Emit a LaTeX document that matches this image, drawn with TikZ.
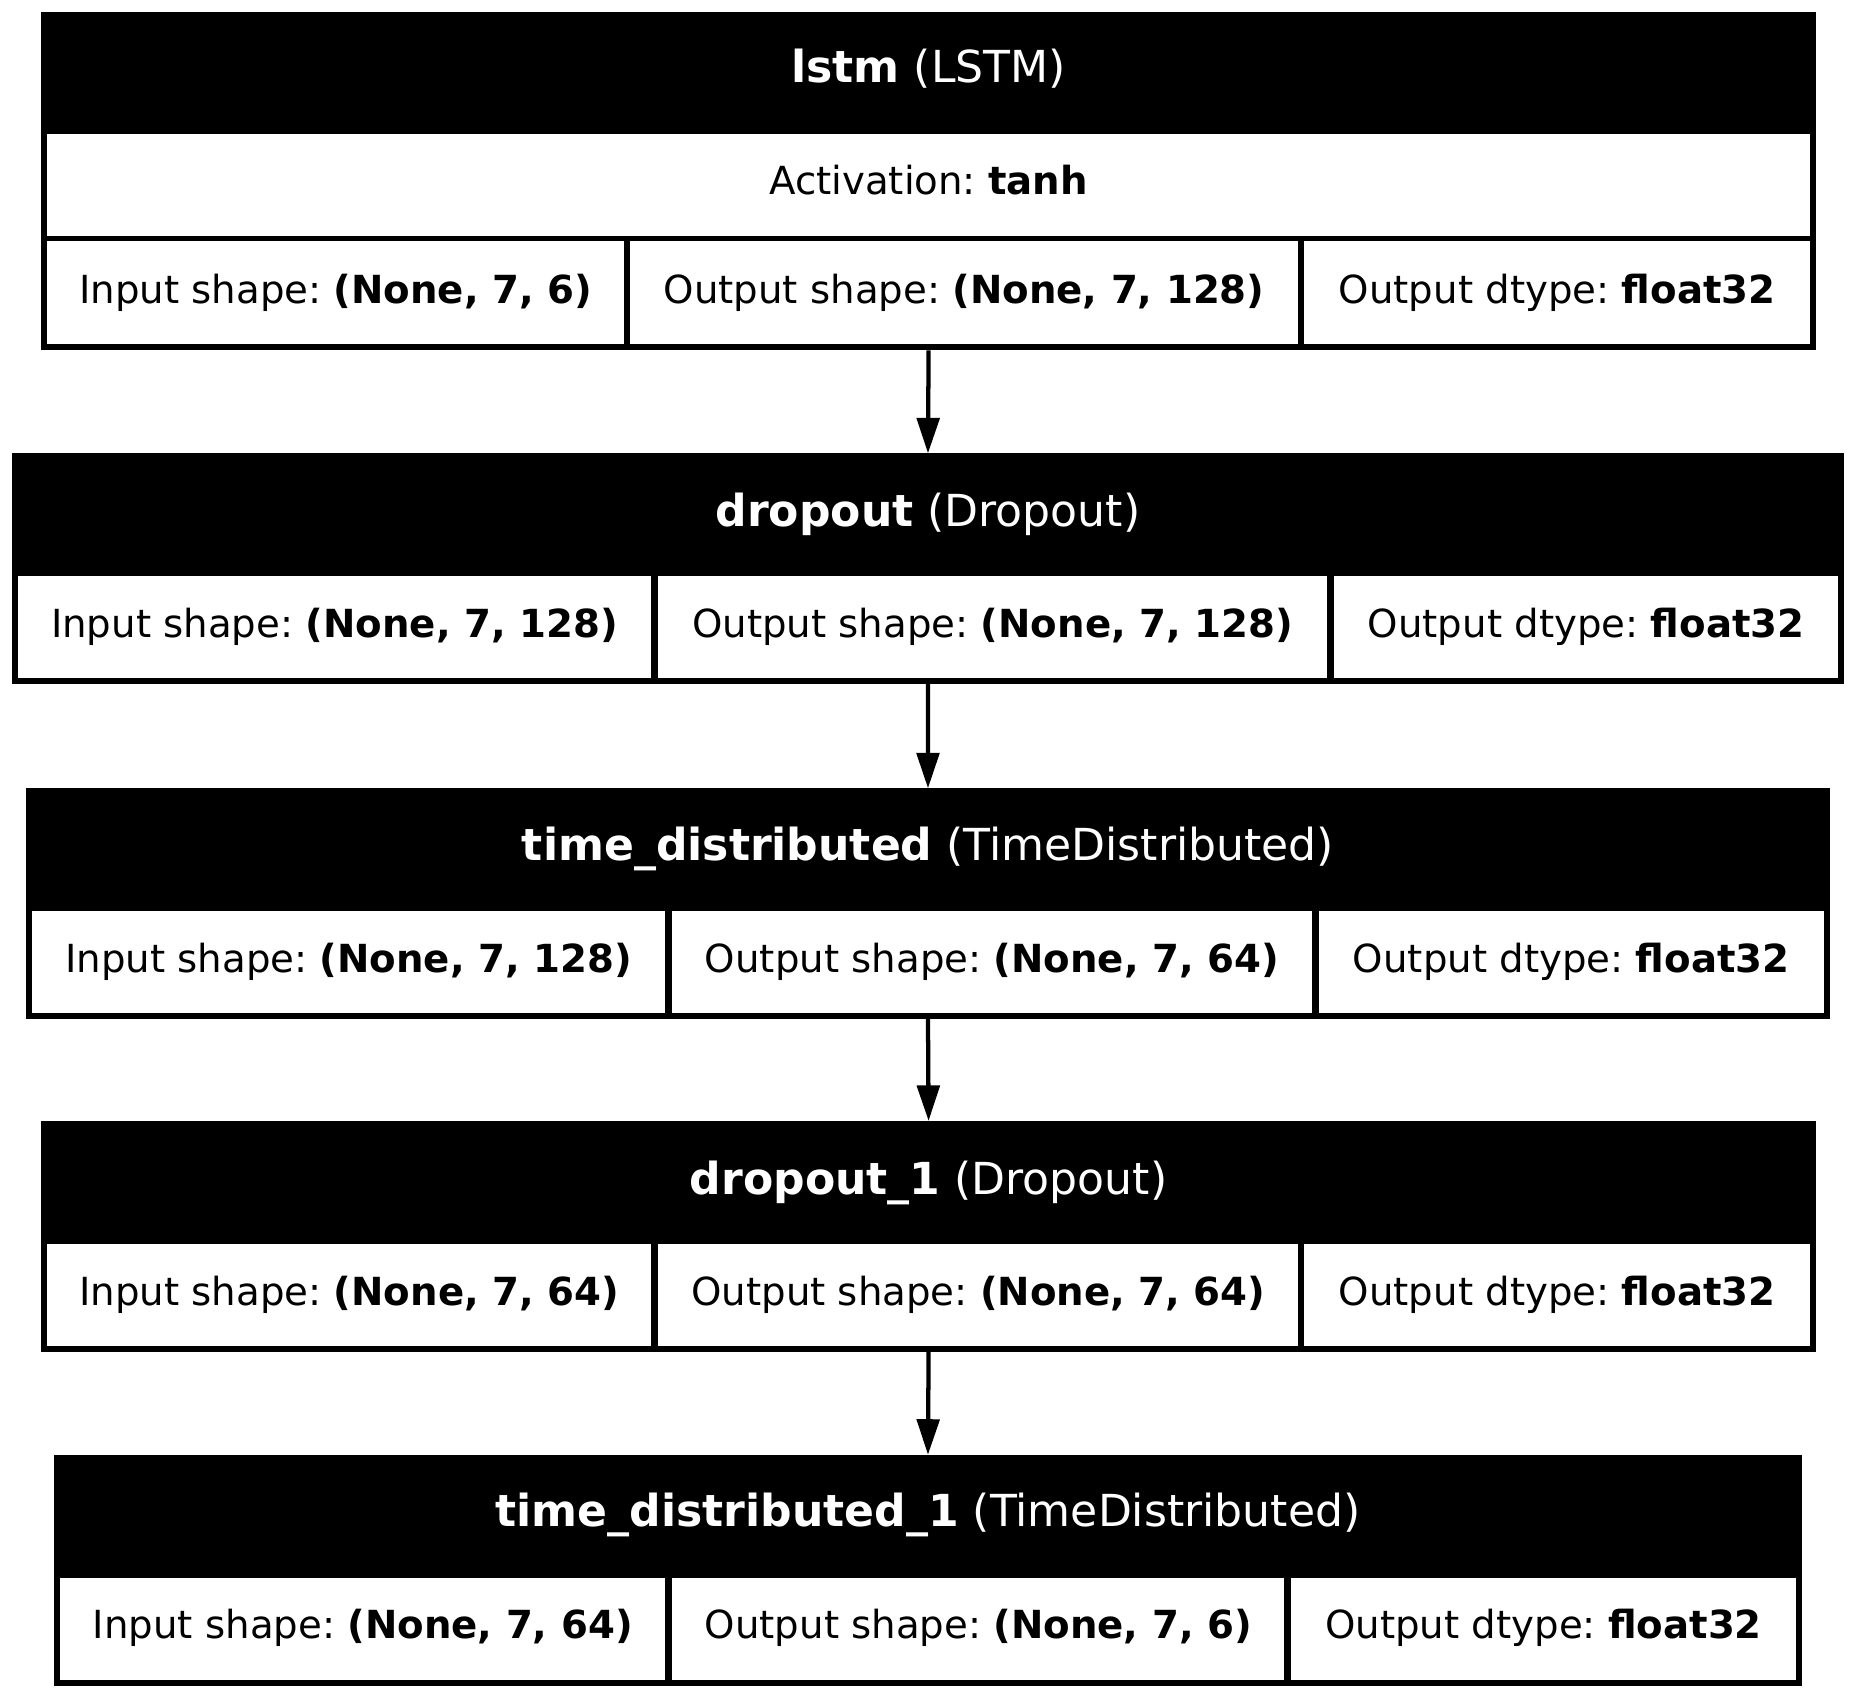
\documentclass[tikz,border=0pt]{standalone}
\usepackage{fontspec}
\setmainfont{DejaVu Sans}
\usetikzlibrary{arrows.meta}
\frenchspacing

\begin{document}
\begin{tikzpicture}[x=0.1mm, y=-0.1mm,
layerbox/.style={fill=black, inner sep=0pt, outer sep=0pt, anchor=north west},
layercell/.style={fill=white, inner sep=0pt, outer sep=0pt, anchor=north west,
  font=\fontsize{9.3pt}{11pt}\selectfont, text height=7.1pt, text depth=2.2pt},
layertitle/.style={text=white, anchor=base, inner sep=0pt,
  font=\fontsize{10.6pt}{12pt}\selectfont},
flow/.style={-{Triangle[length=3mm, width=1.9mm]}, line width=0.36mm}]
\useasboundingbox (0,0) rectangle (1568,1434);

% lstm
\node[layerbox, minimum width=149.9mm, minimum height=28.6mm] (lstm) at (35,10) {};
\node[layertitle] (lstm-t) at (784.5,70) {\textbf{lstm} (LSTM)};
\node[layercell, minimum width=148.9mm, minimum height=8.6mm] (lstm-a) at (40,113) {Activation: \textbf{tanh}};
\node[layercell, minimum width=48.7mm, minimum height=8.7mm] (lstm-in) at (40,204) {Input shape: \textbf{(None, 7, 6)}};
\node[layercell, minimum width=56.5mm, minimum height=8.7mm] (lstm-out) at (532,204) {Output shape: \textbf{(None, 7, 128)}};
\node[layercell, minimum width=42.7mm, minimum height=8.7mm] (lstm-dt) at (1102,204) {Output dtype: \textbf{float32}};

% dropout
\node[layerbox, minimum width=154.8mm, minimum height=19.5mm] (drop) at (10,383) {};
\node[layertitle] (drop-t) at (784,445) {\textbf{dropout} (Dropout)};
\node[layercell, minimum width=53.5mm, minimum height=8.6mm] (drop-in) at (15,487) {Input shape: \textbf{(None, 7, 128)}};
\node[layercell, minimum width=56.5mm, minimum height=8.6mm] (drop-out) at (556,487) {Output shape: \textbf{(None, 7, 128)}};
\node[layercell, minimum width=42.6mm, minimum height=8.6mm] (drop-dt) at (1127,487) {Output dtype: \textbf{float32}};

% time_distributed
\node[layerbox, minimum width=152.4mm, minimum height=19.5mm] (td) at (22,666) {};
\node[layertitle] (td-t) at (784,727) {\textbf{time\_distributed} (TimeDistributed)};
\node[layercell, minimum width=53.5mm, minimum height=8.6mm] (td-in) at (27,770) {Input shape: \textbf{(None, 7, 128)}};
\node[layercell, minimum width=54.0mm, minimum height=8.6mm] (td-out) at (568,770) {Output shape: \textbf{(None, 7, 64)}};
\node[layercell, minimum width=42.7mm, minimum height=8.6mm] (td-dt) at (1114,770) {Output dtype: \textbf{float32}};

% dropout_1
\node[layerbox, minimum width=149.9mm, minimum height=19.5mm] (drop1) at (35,947) {};
\node[layertitle] (drop1-t) at (784.5,1009) {\textbf{dropout\_1} (Dropout)};
\node[layercell, minimum width=51.0mm, minimum height=8.6mm] (drop1-in) at (40,1051) {Input shape: \textbf{(None, 7, 64)}};
\node[layercell, minimum width=54.1mm, minimum height=8.6mm] (drop1-out) at (556,1051) {Output shape: \textbf{(None, 7, 64)}};
\node[layercell, minimum width=42.7mm, minimum height=8.6mm] (drop1-dt) at (1102,1051) {Output dtype: \textbf{float32}};

% time_distributed_1
\node[layerbox, minimum width=147.6mm, minimum height=19.5mm] (td1) at (46,1229) {};
\node[layertitle] (td1-t) at (784,1290) {\textbf{time\_distributed\_1} (TimeDistributed)};
\node[layercell, minimum width=51.1mm, minimum height=8.6mm] (td1-in) at (51,1333) {Input shape: \textbf{(None, 7, 64)}};
\node[layercell, minimum width=51.7mm, minimum height=8.6mm] (td1-out) at (568,1333) {Output shape: \textbf{(None, 7, 6)}};
\node[layercell, minimum width=42.6mm, minimum height=8.6mm] (td1-dt) at (1091,1333) {Output dtype: \textbf{float32}};

\draw[flow] (lstm.south) -- (drop.north);
\draw[flow] (drop.south) -- (td.north);
\draw[flow] (td.south) -- (drop1.north);
\draw[flow] (drop1.south) -- (td1.north);
\end{tikzpicture}
\end{document}
